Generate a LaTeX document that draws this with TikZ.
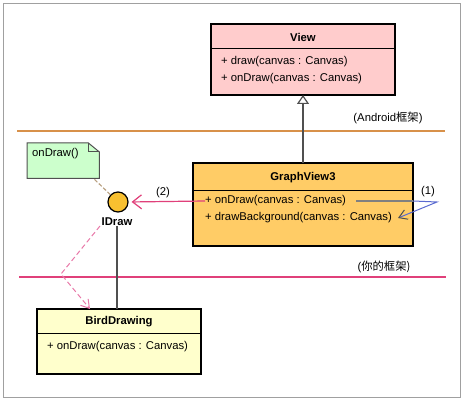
\documentclass[tikz,border=0pt]{standalone}
\usepackage{fontspec}
\setmainfont{Liberation Sans}
\newfontfamily\cjk{Noto Sans CJK SC}
\usetikzlibrary{arrows.meta}
\definecolor{viewfill}{HTML}{FFCCCC}
\definecolor{gvfill}{HTML}{FFCC66}
\definecolor{birdfill}{HTML}{FFFFCC}
\definecolor{notefill}{HTML}{CCFFCC}
\definecolor{framegray}{HTML}{A0A0A0}
\definecolor{sepor}{HTML}{D8914A}
\definecolor{seppink}{HTML}{E0407A}
\definecolor{callpink}{HTML}{E0407A}
\definecolor{deppink}{HTML}{E878A8}
\definecolor{selfblue}{HTML}{5A6AD0}
\definecolor{notetan}{HTML}{B8A080}
\definecolor{linkgray}{HTML}{505050}
\definecolor{lollifill}{HTML}{F8C030}
\begin{document}
\begin{tikzpicture}[x=1pt,y=-1pt,
  font=\fontsize{11.3}{13}\selectfont,
  cls/.style={draw=black,line width=1.5pt,anchor=north west,inner sep=0,outer sep=0},
  ttl/.style={font=\fontsize{11.3}{13}\selectfont\bfseries,inner sep=0,anchor=center},
  meth/.style={inner sep=0,anchor=west},
  lbl/.style={inner sep=0,anchor=center},
  sepline/.style={line width=0.8pt},
  link/.style={linkgray,line width=1.2pt},
]
\useasboundingbox (0,0) rectangle (465,403);
\draw[framegray,line width=1.2pt] (3.5,3.5) rectangle (460.5,397.5);

% separators
\draw[sepor,line width=2pt] (17,131) -- (445,131);
\draw[seppink,line width=2pt] (19,277) -- (446,277);
\node[lbl] (andr) at (388,118) {(Android{\cjk 框架})};
\node[lbl] (mine) at (384,267) {(\cjk 你的框架)};

% View
\node[cls,fill=viewfill,minimum width=184pt,minimum height=71pt] (view) at (211,24) {};
\draw[sepline] ([yshift=-24pt]view.north west) -- ([yshift=-24pt]view.north east);
\node[ttl] (viewt) at (303,37) {View};
\node[meth] (viewm1) at (221,62) {+ draw(canvas : Canvas)};
\node[meth] (viewm2) at (221,79) {+ onDraw(canvas : Canvas)};

% GraphView3
\node[cls,fill=gvfill,minimum width=220pt,minimum height=83pt] (gv) at (193,163) {};
\draw[sepline] ([yshift=-27pt]gv.north west) -- ([yshift=-27pt]gv.north east);
\node[ttl] (gvt) at (303,178) {GraphView3};
\node[meth] (gvm1) at (205,201) {+ onDraw(canvas : Canvas)};
\node[meth] (gvm2) at (205,218) {+ drawBackground(canvas : Canvas)};

% BirdDrawing
\node[cls,fill=birdfill,minimum width=164pt,minimum height=65pt] (bird) at (37,309) {};
\draw[sepline] ([yshift=-24pt]bird.north west) -- ([yshift=-24pt]bird.north east);
\node[ttl] (birdt) at (119,322) {BirdDrawing};
\node[meth] (birdm) at (47,347) {+ onDraw(canvas : Canvas)};

% note
\node[inner sep=0,minimum width=72pt,minimum height=35pt,anchor=north west] (note) at (27,143) {};
\filldraw[fill=notefill,draw=linkgray,line width=1pt,line join=miter]
  (note.north west) -- ([xshift=-11pt]note.north east) -- ([yshift=-9pt]note.north east)
  -- (note.south east) -- (note.south west) -- cycle;
\draw[linkgray,line width=1pt] ([xshift=-11pt]note.north east) |- ([yshift=-9pt]note.north east);
\node[meth] (notet) at (32,154) {onDraw()};

% lollipop
\node[circle,draw=black,line width=1.2pt,fill=lollifill,minimum size=20pt,inner sep=0] (idraw) at (118,202) {};
\node[ttl] (idrawl) at (117,222) {IDraw};

% connectors
\draw[link,-{Triangle[open,width=12pt,length=9pt,fill=white]}] (gv.north) -- (view.south);
\draw[link] (idrawl.south) -- (idrawl.south |- bird.north);
\draw[notetan,line width=1.1pt,dash pattern=on 4pt off 2pt] (idraw.136) -- ([xshift=-6pt]note.south east);

\draw[callpink,line width=1.2pt,shorten >=3pt,-{Straight Barb[length=9pt,width=14pt]}] (gvm1.west) -- (idraw.east);
\node[lbl] (l2) at (163,193) {(2)};

\coordinate (c1a) at (356,201);
\coordinate (c1b) at (437,202);
\coordinate (c1c) at (398,218);
\draw[gray,line width=1.2pt] (c1a) -- (gv.east |- c1a);
\draw[selfblue,line width=1pt,-{Straight Barb[color=linkgray,length=8pt,width=10pt]}] (gv.east |- c1a) -- (c1b) -- (c1c);
\node[lbl] (l1) at (428,192) {(1)};

\coordinate (d0) at (100,226);
\coordinate (d1) at (61,274);
\draw[deppink,line width=1pt,dash pattern=on 5pt off 3pt,-{Straight Barb[length=8pt,width=10pt]}] (d0) -- (d1) -- ([xshift=53pt]bird.north west);
\end{tikzpicture}
\end{document}
